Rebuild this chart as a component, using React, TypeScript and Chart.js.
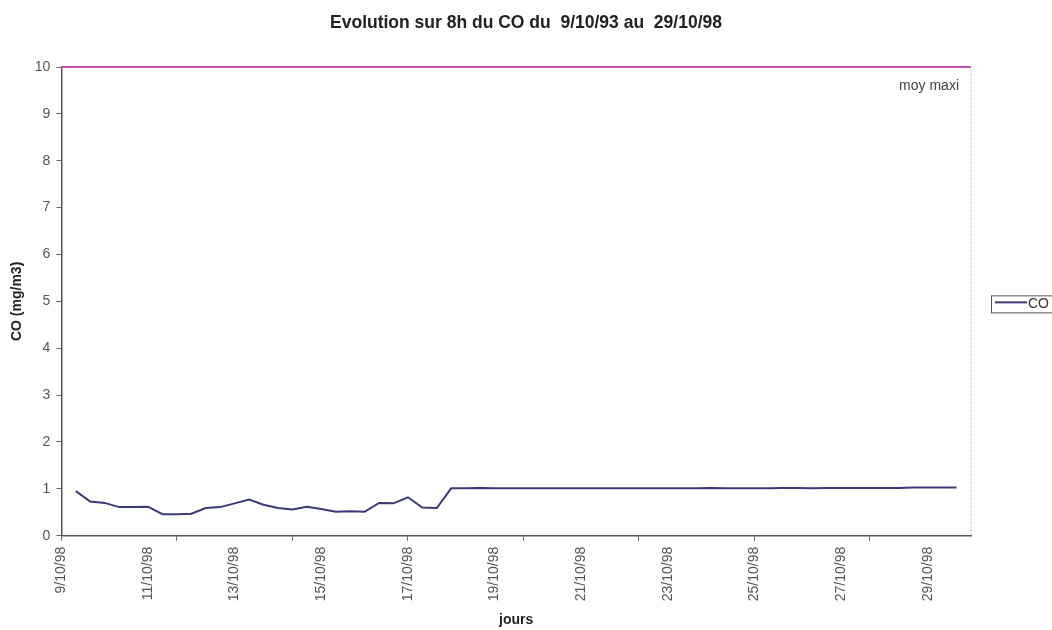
import React, { useEffect, useRef } from "react";
import { Chart, registerables } from "chart.js";

Chart.register(...registerables);

const FONT = "'Liberation Sans', Arial, sans-serif";

// Days shown on the category axis (3 eight-hour slots per day)
const days = [
  "9/10/98", "10/10/98", "11/10/98", "12/10/98", "13/10/98", "14/10/98", "15/10/98",
  "16/10/98", "17/10/98", "18/10/98", "19/10/98", "20/10/98", "21/10/98", "22/10/98",
  "23/10/98", "24/10/98", "25/10/98", "26/10/98", "27/10/98", "28/10/98", "29/10/98",
  "30/10/98",
];
const slots = ["0h", "8h", "16h"];
const categoryCount = 64;

// CO 8h averages (mg/m3)
const coValues: (number | null)[] = [
  null, 0.95, 0.73, 0.70, 0.61, 0.61, 0.62, 0.46, 0.46, 0.47,
  0.59, 0.61, 0.69, 0.77, 0.66, 0.59, 0.56, 0.62, 0.57, 0.51,
  0.52, 0.51, 0.70, 0.69, 0.82, 0.60, 0.59, 1.01, 1.01, 1.02,
  1.01, 1.01, 1.01, 1.01, 1.01, 1.01, 1.01, 1.01, 1.01, 1.01,
  1.01, 1.01, 1.01, 1.01, 1.01, 1.02, 1.01, 1.01, 1.01, 1.01,
  1.02, 1.02, 1.01, 1.02, 1.02, 1.02, 1.02, 1.02, 1.02, 1.03,
  1.03, 1.03, 1.03, null,
];

// Threshold "moy maxi"
const moyMaxi: number[] = [
  10, 10, 10, 10, 10, 10, 10, 10, 10, 10,
  10, 10, 10, 10, 10, 10, 10, 10, 10, 10,
  10, 10, 10, 10, 10, 10, 10, 10, 10, 10,
  10, 10, 10, 10, 10, 10, 10, 10, 10, 10,
  10, 10, 10, 10, 10, 10, 10, 10, 10, 10,
  10, 10, 10, 10, 10, 10, 10, 10, 10, 10,
  10, 10, 10, 10,
];

const yTicks = [0, 1, 2, 3, 4, 5, 6, 7, 8, 9, 10];

const categories = days
  .flatMap((d) => slots.map((s) => `${d} ${s}`))
  .slice(0, categoryCount);

const frame = {
  id: "frame",
  beforeDatasetsDraw(chart: any) {
    const { ctx, chartArea: a } = chart;
    ctx.save();
    ctx.strokeStyle = "#b8b8b8";
    ctx.lineWidth = 1;
    ctx.setLineDash([2, 2]);
    ctx.beginPath();
    ctx.moveTo(a.left, a.top);
    ctx.lineTo(a.right, a.top);
    ctx.lineTo(a.right, a.bottom);
    ctx.stroke();
    ctx.restore();
  },
};

const annotations = {
  id: "annotations",
  afterDatasetsDraw(chart: any) {
    const { ctx, chartArea: a } = chart;
    // label of the threshold line
    const meta = chart.getDatasetMeta(1);
    const last = meta.data[meta.data.length - 1];
    ctx.save();
    ctx.font = `14px ${FONT}`;
    ctx.fillStyle = "#444";
    ctx.textAlign = "right";
    ctx.textBaseline = "middle";
    ctx.fillText(chart.data.datasets[1].label, last.x - 12, last.y + 19);

    // legend box (CO only)
    const ds = chart.data.datasets[0];
    const x0 = a.right + 20;
    const cy = (a.top + a.bottom) / 2 + 3;
    ctx.strokeStyle = "#555";
    ctx.lineWidth = 1;
    ctx.strokeRect(x0 + 0.5, cy - 8.5, 80, 17);
    ctx.strokeStyle = ds.borderColor;
    ctx.lineWidth = 2;
    ctx.beginPath();
    ctx.moveTo(x0 + 4, cy - 2);
    ctx.lineTo(x0 + 36, cy - 2);
    ctx.stroke();
    ctx.fillStyle = "#333";
    ctx.textAlign = "left";
    ctx.fillText(ds.label, x0 + 37, cy);
    ctx.restore();
  },
};

export default function App() {
  const ref = useRef<HTMLCanvasElement>(null);

  useEffect(() => {
    if (!ref.current) return;
    const chart = new Chart(ref.current, {
      type: "line",
      data: {
        labels: categories,
        datasets: [
          {
            label: "CO",
            data: coValues,
            yAxisID: "y",
            borderColor: "#3a3a78",
            borderWidth: 2,
            pointRadius: 0,
            tension: 0,
            spanGaps: false,
          },
          {
            label: "moy maxi",
            data: moyMaxi,
            yAxisID: "y",
            borderColor: "#c24cb8",
            borderWidth: 2,
            pointRadius: 0,
            tension: 0,
            clip: false,
          },
        ],
      },
      options: {
        responsive: false,
        animation: false,
        layout: { padding: { left: 0, right: 0, top: 0, bottom: 0 } },
        plugins: {
          legend: { display: false },
          tooltip: { enabled: false },
          title: {
            display: true,
            text: "Evolution sur 8h du CO du  9/10/93 au  29/10/98",
            font: { family: FONT, size: 17.5, weight: "bold" },
            color: "#222",
            padding: { top: 13, bottom: 33 },
          },
        },
        scales: {
          x: {
            type: "category",
            offset: false,
            border: { display: true, color: "#555", width: 1.5 },
            grid: {
              display: true,
              drawOnChartArea: false,
              drawTicks: true,
              tickLength: 5,
              color: (c: any) => (c.index % 8 === 0 ? "#666" : "rgba(0,0,0,0)"),
            },
            ticks: {
              autoSkip: false,
              minRotation: 90,
              maxRotation: 90,
              padding: 6,
              color: "#555",
              font: { family: FONT, size: 14 },
              callback: (_v: any, i: number) =>
                i % 6 === 0 ? days[Math.floor(i / 3)] : "",
            },
            title: {
              display: true,
              text: "jours",
              color: "#222",
              font: { family: FONT, size: 14, weight: "bold" },
              padding: { top: 5, bottom: 1 },
            },
          },
          y: {
            min: 0,
            max: 10,
            afterBuildTicks: (axis: any) => {
              axis.ticks = yTicks.map((v) => ({ value: v }));
            },
            border: { display: true, color: "#555", width: 1.5 },
            grid: {
              display: true,
              drawOnChartArea: false,
              drawTicks: true,
              tickLength: 5,
              color: "#666",
            },
            ticks: {
              padding: 6,
              color: "#555",
              font: { family: FONT, size: 14 },
            },
            title: {
              display: true,
              text: "CO (mg/m3)",
              color: "#222",
              font: { family: FONT, size: 14, weight: "bold" },
              padding: { top: 8.6, bottom: 3.4 },
            },
          },
          legendSpace: {
            type: "linear",
            position: "right",
            display: true,
            grid: { display: false },
            border: { display: false },
            ticks: { display: false },
            afterFit: (s: any) => {
              s.width = 81;
            },
          },
        },
      },
      plugins: [frame, annotations],
    });
    return () => chart.destroy();
  }, []);

  return (
    <div style={{ position: "absolute", left: 0, top: 0, width: 1052, height: 630, background: "#fff" }}>
      <canvas ref={ref} width={1052} height={630} />
    </div>
  );
}
